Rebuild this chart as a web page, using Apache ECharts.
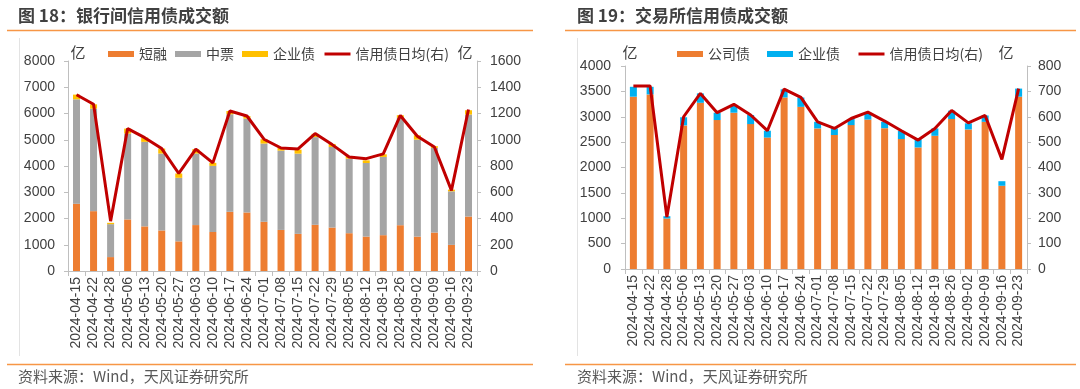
<!DOCTYPE html>
<html><head><meta charset="utf-8">
<script src="https://cdn.jsdelivr.net/npm/echarts@6/dist/echarts.min.js"></script>
<style>
html,body{margin:0;padding:0;background:#fff;}
#c1{position:absolute;left:0;top:0;width:540px;height:389px;}
#c2{position:absolute;left:540px;top:0;width:540px;height:389px;}
</style></head><body>
<div id="c1"></div><div id="c2"></div>
<script>
const dates = ['2024-04-15','2024-04-22','2024-04-28','2024-05-06','2024-05-13','2024-05-20','2024-05-27','2024-06-03','2024-06-10','2024-06-17','2024-06-24','2024-07-01','2024-07-08','2024-07-15','2024-07-22','2024-07-29','2024-08-05','2024-08-12','2024-08-19','2024-08-26','2024-09-02','2024-09-09','2024-09-16','2024-09-23'];

// 图18 银行间
const shortTerm = [2560,2280,530,1965,1700,1545,1130,1750,1485,2255,2230,1875,1565,1415,1760,1655,1440,1310,1365,1745,1310,1465,995,2075];
const mtn = [3980,3905,1255,3270,3220,2930,2420,2725,2520,3715,3575,2980,3020,3055,3340,3070,2840,2805,2980,4090,3695,3225,2040,3885];
const corpIB = [180,165,50,190,165,190,165,165,115,125,100,165,100,155,125,115,90,100,100,100,165,65,65,165];
const avgIB = [1343,1270,380,1085,1016,933,743,928,824,1219,1181,1004,937,930,1047,963,869,856,892,1185,1027,945,614,1230];

// 图19 交易所
const companyBond = [3395,3440,995,2830,3275,2935,3080,2855,2590,3380,3195,2770,2640,2835,2945,2775,2560,2395,2625,2955,2750,2900,1640,3395];
const entBond = [195,150,45,160,185,145,150,180,135,160,185,130,130,120,135,125,160,160,145,165,120,125,90,160];
const avgEx = [721,721,205,600,692,616,649,607,545,709,676,580,554,593,618,583,545,508,554,625,576,605,432,711];

const FONT = '"Liberation Sans","Noto Sans CJK SC",sans-serif';
const CJK = '"Noto Sans CJK SC","Liberation Sans",sans-serif';
const TXT = '#404040';
const AX = '#bfbfbf';
const ORANGE_RULE = '#F79646';

function yAx(max, interval, pos, margin){
  return {type:'value', position:pos, min:0, max:max, interval:interval,
    axisLine:{show:true, lineStyle:{color:AX, width:1}},
    axisTick:{show:true, length:4, lineStyle:{color:AX}},
    splitLine:{show:false},
    axisLabel:{color:TXT, fontSize:14, fontFamily:FONT, margin:margin, formatter:function(v){return String(v);}}};
}
function xAx(){
  return {type:'category', data:dates, boundaryGap:true,
    axisLine:{lineStyle:{color:AX, width:1}},
    axisTick:{show:true, length:5, alignWithLabel:false, lineStyle:{color:AX}},
    axisLabel:{rotate:90, interval:0, color:TXT, fontSize:14, fontFamily:FONT, margin:6}};
}
function frame(title, ruleL, ruleR, titleX, vlineX, unitL, unitR){
  return [
    {type:'text', left:titleX, top:7, style:{text:title, fill:TXT, font:'bold 17px '+CJK}},
    {type:'line', shape:{x1:ruleL, y1:30.5, x2:ruleR, y2:30.5}, style:{stroke:ORANGE_RULE, lineWidth:1.5}},
    {type:'line', shape:{x1:ruleL, y1:364.5, x2:ruleR, y2:364.5}, style:{stroke:ORANGE_RULE, lineWidth:1.5}},
    {type:'line', shape:{x1:vlineX, y1:38, x2:vlineX, y2:356}, style:{stroke:'#e3e3e3', lineWidth:1}},
    {type:'text', left:titleX, top:369, style:{text:'资料来源：Wind，天风证券研究所', fill:'#595959', font:'15px '+CJK}},
    {type:'text', x:unitL, y:52, style:{text:'亿', fill:TXT, font:'15px '+CJK, align:'center', verticalAlign:'middle'}},
    {type:'text', x:unitR, y:52, style:{text:'亿', fill:TXT, font:'15px '+CJK, align:'center', verticalAlign:'middle'}}
  ];
}
const lineLegend = {name:'信用债日均(右)', itemStyle:{opacity:0, borderWidth:0}, lineStyle:{color:'#C00000', width:3}};

const c1 = echarts.init(document.getElementById('c1'), null, {renderer:'canvas'});
c1.setOption({
  animation:false,
  graphic: frame('图 18：银行间信用债成交额', 7, 533, 18, 19.5, 78, 465),
  legend:{left:103, top:42, itemGap:8, itemWidth:26, itemHeight:6,
    textStyle:{color:TXT, fontSize:14, fontFamily:CJK},
    data:[{name:'短融', icon:'rect'},{name:'中票', icon:'rect'},{name:'企业债', icon:'rect'},lineLegend]},
  grid:{left:68, right:63, top:61, bottom:118},
  xAxis: xAx(),
  yAxis:[yAx(8000,1000,'left',13), yAx(1600,200,'right',13)],
  series:[
    {name:'短融', type:'bar', stack:'a', data:shortTerm, barWidth:7, itemStyle:{color:'#ED7D31'}},
    {name:'中票', type:'bar', stack:'a', data:mtn, barWidth:7, itemStyle:{color:'#A5A5A5'}},
    {name:'企业债', type:'bar', stack:'a', data:corpIB, barWidth:7, itemStyle:{color:'#FFC000'}},
    {name:'信用债日均(右)', type:'line', yAxisIndex:1, data:avgIB, symbol:'none', lineStyle:{color:'#C00000', width:3}, itemStyle:{color:'#C00000'}}
  ]
});

const c2 = echarts.init(document.getElementById('c2'), null, {renderer:'canvas'});
c2.setOption({
  animation:false,
  graphic: frame('图 19：交易所信用债成交额', 25, 536, 37, 37.5, 90, 466),
  legend:{left:132, top:42, itemGap:17, itemWidth:26, itemHeight:6,
    textStyle:{color:TXT, fontSize:14, fontFamily:CJK},
    data:[{name:'公司债', icon:'rect'},{name:'企业债', icon:'rect'},lineLegend]},
  grid:{left:85, right:53, top:66, bottom:120},
  xAxis: xAx(),
  yAxis:[yAx(4000,500,'left',14), yAx(800,100,'right',11)],
  series:[
    {name:'公司债', type:'bar', stack:'a', data:companyBond, barWidth:7, itemStyle:{color:'#ED7D31'}},
    {name:'企业债', type:'bar', stack:'a', data:entBond, barWidth:7, itemStyle:{color:'#00B0F0'}},
    {name:'信用债日均(右)', type:'line', yAxisIndex:1, data:avgEx, symbol:'none', lineStyle:{color:'#C00000', width:3}, itemStyle:{color:'#C00000'}}
  ]
});
</script>
</body></html>
